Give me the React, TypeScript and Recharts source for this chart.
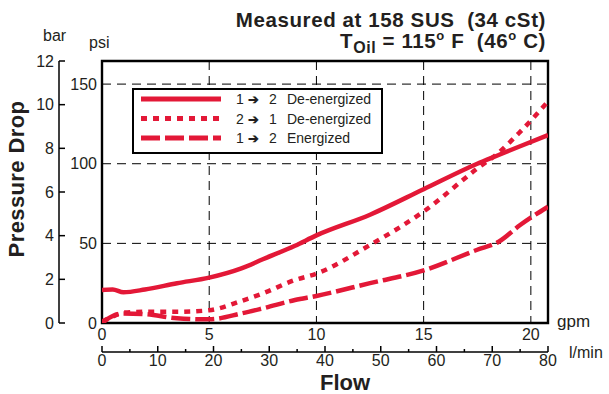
import { ComposedChart, Line, XAxis, YAxis, CartesianGrid, ReferenceArea } from 'recharts'

const RED = '#E31837'
const INK = '#231F20'
const FONT = '"Liberation Sans", Arial, Helvetica, sans-serif'
const SP = '\u00a0'

// flow in gpm, pressure drop in psi
const flowGpm = [0, 0.5, 1, 2, 3.5, 5, 6.5, 7.5, 9, 10, 12.5, 15, 17.5, 18.5, 19.5, 20.8]
const psi12DeEnergized = [20.7, 21, 19.3, 21, 25, 28.5, 34.3, 40, 48.5, 55, 68, 84, 100, 105.5, 111, 118]
const psi21DeEnergized = [1, 4, 6.5, 7, 7, 8, 13.8, 18.6, 27, 31, 49, 70, 97, 107, 120, 139]
const psi12Energized = [0, 4.4, 6, 5.6, 3, 2.3, 6, 9.2, 14.4, 17, 25, 33, 46, 51, 61.5, 73]

const gpmTicks = [0, 5, 10, 15, 20]
const lpmTicks = [0, 5, 10, 15, 20, 25, 30, 35, 40, 45, 50, 55, 60, 65, 70, 75, 80]
const psiTicks = [0, 50, 100, 150]
const barTicks = [0, 2, 4, 6, 8, 10, 12]

const legendFrom = ['1', '2', '1']
const legendTo = ['2', '1', '2']
const legendMode = ['De-energized', 'De-energized', 'Energized']
const legendDash = ['0', '6 6', '19 5']

const data = flowGpm.map((gpm, i) => ({
  gpm,
  a: psi12DeEnergized[i],
  b: psi21DeEnergized[i],
  c: psi12Energized[i],
}))

function BarTick({ x, y, payload }: any) {
  return (
    <g>
      <line x1={x} y1={y} x2={x + 6} y2={y} stroke="#000" strokeWidth={1.5} />
      <text x={x - 5} y={y + 5.5} textAnchor="end" fontSize={16} fill={INK} fontFamily={FONT}>
        {payload.value}
      </text>
    </g>
  )
}

function LpmTick({ x, y, payload }: any) {
  const major = payload.value % 10 === 0
  return (
    <g>
      <line x1={x} y1={y} x2={x} y2={y - (major ? 6 : 3)} stroke="#000" strokeWidth={1.5} />
      {major && (
        <text x={x} y={y + 14} textAnchor="middle" fontSize={16} fill={INK} fontFamily={FONT}>
          {payload.value}
        </text>
      )}
    </g>
  )
}

export default function App() {
  return (
    <div style={{ position: 'absolute', left: 0, top: 0, width: 609, height: 394, background: '#fff', fontFamily: FONT }}>
      <ComposedChart width={609} height={394} data={data} margin={{ top: 61, right: 61, left: 19, bottom: 12 }}>
        <CartesianGrid xAxisId="gpm" yAxisId="a" stroke="#000" strokeWidth={1} strokeDasharray="9 6" />
        <XAxis
          xAxisId="gpm" type="number" dataKey="gpm" domain={[0, 20.8]} ticks={gpmTicks} allowDataOverflow
          interval={0} height={29} axisLine={false} tickLine={false} tickSize={0} tickMargin={6}
          tick={{ fontSize: 16, fill: INK, fontFamily: FONT }}
        />
        <XAxis
          xAxisId="lpm" type="number" dataKey="gpm" domain={[0, 80]} ticks={lpmTicks} allowDataOverflow
          interval={0} height={30} axisLine={{ stroke: '#000', strokeWidth: 1.5 }} tickLine={false}
          tickSize={0} tickMargin={0} tick={<LpmTick />}
        />
        {/* psi scale sits next to the plot, bar scale outside it */}
        <YAxis
          yAxisId="a" type="number" domain={[0, 164.5]} ticks={psiTicks} allowDataOverflow
          interval={0} width={43} axisLine={false} tickLine={false} tickSize={0} tickMargin={5}
          tick={{ fontSize: 16, fill: INK, fontFamily: FONT }}
        />
        <YAxis
          yAxisId="b" type="number" domain={[0, 12]} ticks={barTicks} allowDataOverflow
          interval={0} width={40} axisLine={{ stroke: '#000', strokeWidth: 1.5 }} tickLine={false}
          tickSize={0} tickMargin={0} tick={<BarTick />}
        />
        <Line xAxisId="gpm" yAxisId="a" dataKey="a" type="monotone" stroke={RED} strokeWidth={4.5} dot={false} isAnimationActive={false} />
        <Line xAxisId="gpm" yAxisId="a" dataKey="b" type="monotone" stroke={RED} strokeWidth={4.5} strokeDasharray="6 6" dot={false} isAnimationActive={false} />
        <Line xAxisId="gpm" yAxisId="a" dataKey="c" type="monotone" stroke={RED} strokeWidth={4.5} strokeDasharray="19 5" dot={false} isAnimationActive={false} />
        <ReferenceArea
          xAxisId="gpm" yAxisId="a" x1={0} x2={20.8} y1={0} y2={164.5}
          fill="none" stroke="#000" strokeWidth={2.4} ifOverflow="visible"
        />
      </ComposedChart>

      <svg width={609} height={394} style={{ position: 'absolute', left: 0, top: 0, pointerEvents: 'none' }}>
        <g fontFamily={FONT} fill={INK}>
          <text x={546} y={27} textAnchor="end" fontSize={20.5} fontWeight="bold" letterSpacing={0.6}>
            {`Measured at 158 SUS${SP}${SP}(34 cSt)`}
          </text>
          <text x={546} y={48} textAnchor="end" fontSize={20.5} fontWeight="bold" letterSpacing={0.6}>
            T<tspan fontSize={16} dy={5}>Oil</tspan>
            <tspan dy={-5}>{' = 115'}</tspan>
            <tspan fontSize={13} dy={-8}>o</tspan>
            <tspan dy={8}>{` F${SP}${SP}(46`}</tspan>
            <tspan fontSize={13} dy={-8}>o</tspan>
            <tspan dy={8}>{' C)'}</tspan>
          </text>

          <text x={43} y={41} fontSize={16}>bar</text>
          <text x={89} y={48} fontSize={16}>psi</text>
          <text x={557} y={327} fontSize={17}>gpm</text>
          <text x={569} y={358} fontSize={16}>l/min</text>

          <text x={24} y={179} transform="rotate(-90 24 179)" textAnchor="middle" fontSize={22} fontWeight="bold" letterSpacing={0.4}>
            Pressure Drop
          </text>
          <text x={345} y={389.5} textAnchor="middle" fontSize={22} fontWeight="bold">Flow</text>

          <rect x={133} y={89} width={249} height={64} fill="#fff" stroke="#000" strokeWidth={2} />
          {legendMode.map((mode, i) => {
            const y = 99 + i * 19.5
            return (
              <g key={i}>
                <line x1={141} y1={y} x2={221} y2={y} stroke={RED} strokeWidth={5} strokeDasharray={legendDash[i]} />
                <text y={y + 5} fontSize={14}>
                  <tspan x={236}>{legendFrom[i]}</tspan>
                  <tspan x={248} fontSize={13} fontWeight="bold">➔</tspan>
                  <tspan x={269}>{legendTo[i]}</tspan>
                  <tspan x={287}>{mode}</tspan>
                </text>
              </g>
            )
          })}
        </g>
      </svg>
    </div>
  )
}
